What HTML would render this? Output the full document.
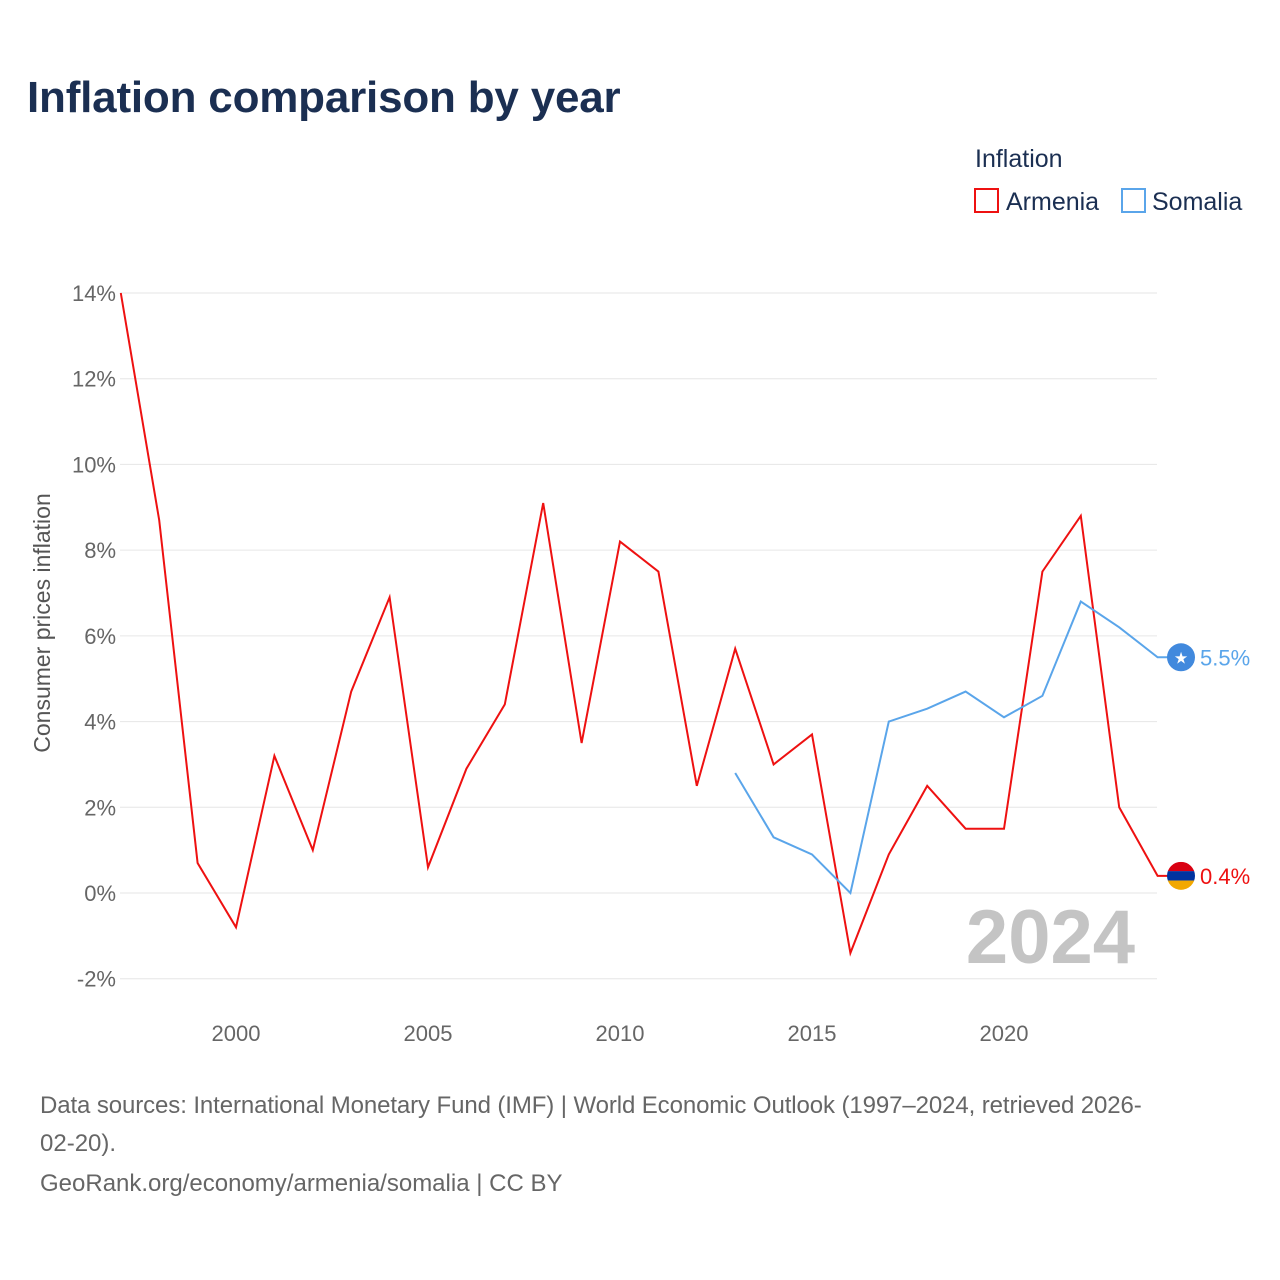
<!DOCTYPE html>
<html><head><meta charset="utf-8">
<style>
body{margin:0;background:#fff;font-family:"Liberation Sans",sans-serif;}
#wrap{position:relative;width:1280px;height:1280px;overflow:hidden;}
</style></head>
<body>
<div id="wrap">
<svg id="chart" width="1280" height="1280" xmlns="http://www.w3.org/2000/svg">
<text x="27" y="112" font-size="44" font-weight="bold" fill="#1b2f52" letter-spacing="-0.2">Inflation comparison by year</text>
<text x="975" y="167" font-size="25" fill="#1b2f52">Inflation</text>
<g>
<rect x="975" y="189" width="23" height="23" fill="none" stroke="#ee1111" stroke-width="2"/>
<text x="1006" y="210" font-size="25" fill="#1b2f52">Armenia</text></g>
<g>
<rect x="1122" y="189" width="23" height="23" fill="none" stroke="#5aa5ea" stroke-width="2"/>
<text x="1152" y="210" font-size="25" fill="#1b2f52">Somalia</text></g>
<g id="grid"></g><g id="yticks"></g><g id="xticks"></g>
<text transform="translate(50,623) rotate(-90)" text-anchor="middle" font-size="23" fill="#555">Consumer prices inflation</text>
<text x="1135" y="963" text-anchor="end" font-size="76" font-weight="bold" fill="#c4c4c4">2024</text>
<g id="series"></g>
<text x="40" y="1113" font-size="24" fill="#666" letter-spacing="-0.1">Data sources: International Monetary Fund (IMF) | World Economic Outlook (1997–2024, retrieved 2026-</text>
<text x="40" y="1151" font-size="24" fill="#666">02-20).</text>
<text x="40" y="1191" font-size="24" fill="#666">GeoRank.org/economy/armenia/somalia | CC BY</text>
</svg>
</div>
<script>
const years=[1997,1998,1999,2000,2001,2002,2003,2004,2005,2006,2007,2008,2009,2010,2011,2012,2013,2014,2015,2016,2017,2018,2019,2020,2021,2022,2023,2024];
const armenia=[14.0,8.7,0.7,-0.8,3.2,1.0,4.7,6.9,0.6,2.9,4.4,9.1,3.5,8.2,7.5,2.5,5.7,3.0,3.7,-1.4,0.9,2.5,1.5,1.5,7.5,8.8,2.0,0.4];
const somaliaYears=[2013,2014,2015,2016,2017,2018,2019,2020,2021,2022,2023,2024];
const somalia=[2.8,1.3,0.9,0.0,4.0,4.3,4.7,4.1,4.6,6.8,6.2,5.5];
const yTicks=[-2,0,2,4,6,8,10,12,14];
const xTicks=[2000,2005,2010,2015,2020];
const NS="http://www.w3.org/2000/svg";
const X=y=>120.8+(y-1997)*38.4;
const Y=v=>893-v*42.857;
function mk(t,a,p){const e=document.createElementNS(NS,t);for(const k in a)e.setAttribute(k,a[k]);p.appendChild(e);return e;}
const grid=document.getElementById('grid'),yt=document.getElementById('yticks'),xt=document.getElementById('xticks'),ser=document.getElementById('series');
yTicks.forEach(v=>{
 const l=mk('line',{x1:120,x2:1157,y1:Y(v),y2:Y(v),stroke:'#e6e6e6','stroke-width':1},grid);
 
 
 const t=mk('text',{x:116,y:Y(v)+8,'text-anchor':'end','font-size':22,fill:'#666'},yt);
 t.textContent=v+'%';
 
 
});
xTicks.forEach(v=>{
 const t=mk('text',{x:X(v),y:1041,'text-anchor':'middle','font-size':22,fill:'#666'},xt);
 t.textContent=v;
 
 
});
function line(xs,vs,color,name){
 let d=xs.map((y,i)=>(i?'L':'M')+X(y)+','+Y(vs[i])).join(' ');
 const last=vs[vs.length-1];
 d+=' L1181,'+Y(last);
 const p=mk('path',{d:d,fill:'none',stroke:color,'stroke-width':2,'stroke-linejoin':'miter'},ser);
 
 
 return last;
}
const a=line(years,armenia,'#ee1111','armenia');
const s=line(somaliaYears,somalia,'#5aa5ea','somalia');
const ya=Y(a);
const g=mk('g',{},ser);


mk('clipPath',{id:'cp'},g);
mk('circle',{cx:1181,cy:ya,r:14},document.getElementById('cp'));
const fg=mk('g',{'clip-path':'url(#cp)'},g);
mk('rect',{x:1167,y:ya-14,width:28,height:9.4,fill:'#d90012'},fg);
mk('rect',{x:1167,y:ya-4.7,width:28,height:9.4,fill:'#0033a0'},fg);
mk('rect',{x:1167,y:ya+4.7,width:28,height:9.4,fill:'#f2a800'},fg);
const ta=mk('text',{x:1200,y:ya+8,'font-size':22,fill:'#ee1111'},ser);
ta.textContent=a+'%';


const ys=Y(s);
const c=mk('circle',{cx:1181,cy:ys,r:14,fill:'#4189dd'},ser);


const st=mk('text',{x:1181,y:ys+6,'text-anchor':'middle','font-size':16,fill:'#fff'},ser);
st.textContent='★';


const ts=mk('text',{x:1200,y:ys+8,'font-size':22,fill:'#5aa5ea'},ser);
ts.textContent=s+'%';


</script>
</body></html>
